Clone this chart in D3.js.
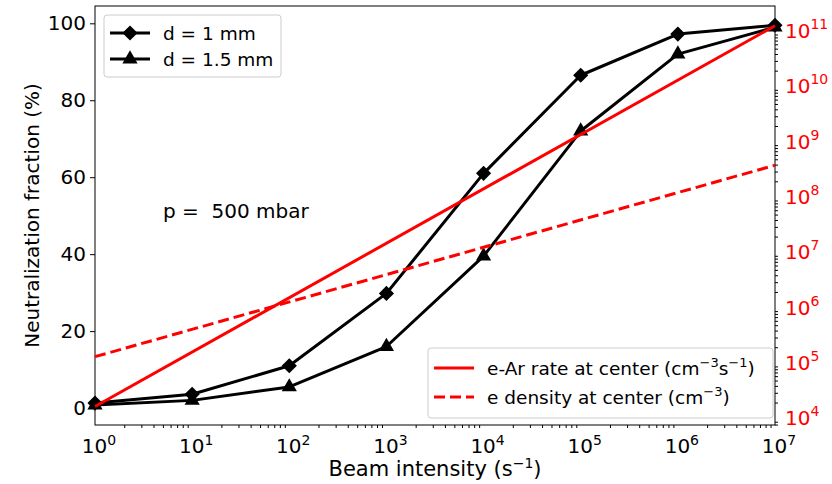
<!DOCTYPE html>
<html lang="en">
  <head>
    <meta charset="UTF-8">
    <script type="text/javascript" src="https://cdn.jsdelivr.net/npm/d3@7"></script>
    <title>Neutralization fraction</title>
    <style>
      body { margin: 0; background: #fff; }
      text { font-family: 'DejaVu Sans', sans-serif; white-space: pre; }
    </style>
  </head>
  <body>
    <script type="text/javascript">
      let w = 832;
      let h = 484;
      let m = {left: 95, right: 775, top: 6, bottom: 425};

      // data
      let beam = [1, 10, 100, 1e3, 1e4, 1e5, 1e6, 1e7];
      let frac1mm = [1.3, 3.6, 11, 29.8, 61, 86.5, 97.2, 99.5];
      let frac15mm = [0.8, 2.0, 5.5, 16, 39.5, 72, 92, 99];
      let rateX = [1, 1e7];
      let rateY = [1.7e4, 1.3e11];
      let densX = [1, 1e7];
      let densY = [1.35e5, 3.9e8];
      let xTicks = [0, 1, 2, 3, 4, 5, 6, 7];
      let yTicks = [0, 20, 40, 60, 80, 100];
      let rTicks = [4, 5, 6, 7, 8, 9, 10, 11];

      let xScale = d3.scaleLog().domain([1, 1e7]).range([m.left, m.right]);
      let yScale = d3.scaleLinear().domain([-4.4, 104.5]).range([m.bottom, m.top]);
      let rScale = d3.scaleLog().domain([Math.pow(10, 3.895), Math.pow(10, 11.47)]).range([m.bottom, m.top]);

      let svg = d3.select('body')
                  .append('svg')
                  .attr('width', w)
                  .attr('height', h);

      // exponent label helper
      function powLabel(sel, exp, up) {
        sel.text('');
        sel.append('tspan').text('10');
        sel.append('tspan').attr('dy', -up).attr('font-size', '14px').text(exp);
      }

      // minor ticks for log axes
      function minors(lo, hi) {
        let out = [];
        for (let e = lo; e < hi; e++) {
          for (let k = 2; k < 10; k++) out.push(k * Math.pow(10, e));
        }
        return out;
      }

      // bottom axis
      let xAxis = svg.append('g')
          .attr('transform', `translate(0,${m.bottom})`)
          .call(d3.axisBottom(xScale).tickValues(xTicks.map(e => Math.pow(10, e))).tickSize(5).tickFormat(''));
      xAxis.call(d3.axisBottom(xScale).tickValues(minors(0, 7)).tickSize(3).tickFormat(''));
      xAxis.select('.domain').remove();
      svg.selectAll('.xlab')
          .data(xTicks)
          .enter()
          .append('text')
          .attr('class', 'xlab')
          .attr('x', d => xScale(Math.pow(10, d)) + 4)
          .attr('y', 453)
          .attr('text-anchor', 'middle')
          .attr('font-size', '20px')
          .each(function(d) { powLabel(d3.select(this), d, 8); });

      // left axis
      let yAxis = svg.append('g')
          .attr('transform', `translate(${m.left},0)`)
          .call(d3.axisLeft(yScale).tickValues(yTicks).tickSize(5).tickPadding(4));
      yAxis.select('.domain').remove();
      yAxis.selectAll('text').attr('font-size', '20px').attr('font-family', 'DejaVu Sans').attr('fill', '#000');

      // right axis
      let rAxis = svg.append('g')
          .attr('transform', `translate(${m.right},0)`)
          .call(d3.axisRight(rScale).tickValues(rTicks.map(e => Math.pow(10, e))).tickSize(5).tickFormat(''));
      rAxis.call(d3.axisRight(rScale).tickValues(minors(3, 11).filter(v => v > Math.pow(10, 3.895) && v < Math.pow(10, 11.47))).tickSize(3).tickFormat(''));
      rAxis.select('.domain').remove();
      svg.selectAll('.rlab')
          .data(rTicks)
          .enter()
          .append('text')
          .attr('class', 'rlab')
          .attr('x', m.right + 10)
          .attr('y', d => rScale(Math.pow(10, d)) + 6)
          .attr('font-size', '20px')
          .attr('fill', 'red')
          .each(function(d) { powLabel(d3.select(this), d, 9); });

      // frame
      svg.append('rect')
          .attr('x', m.left).attr('y', m.top)
          .attr('width', m.right - m.left).attr('height', m.bottom - m.top)
          .attr('fill', 'none').attr('stroke', '#000').attr('stroke-width', 1);

      // axis titles
      svg.append('text')
          .attr('x', (m.left + m.right) / 2)
          .attr('y', 476)
          .attr('text-anchor', 'middle')
          .attr('font-size', '21px')
          .call(t => {
            t.append('tspan').text('Beam intensity (s');
            t.append('tspan').attr('dy', -8).attr('font-size', '14px').text('\u22121');
            t.append('tspan').attr('dy', 8).text(')');
          });
      svg.append('text')
          .attr('transform', `translate(39,${(m.top + m.bottom) / 2}) rotate(-90)`)
          .attr('text-anchor', 'middle')
          .attr('font-size', '20px')
          .text('Neutralization fraction (%)');

      svg.append('text')
          .attr('x', 163)
          .attr('y', 218)
          .attr('font-size', '20px')
          .text('p =  500 mbar');

      // black series
      let line = d3.line().x(d => xScale(d[0])).y(d => yScale(d[1]));
      let s1 = beam.map((b, i) => [b, frac1mm[i]]);
      let s2 = beam.map((b, i) => [b, frac15mm[i]]);
      [s1, s2].forEach(s => {
        svg.append('path')
            .attr('d', line(s))
            .attr('fill', 'none').attr('stroke', '#000').attr('stroke-width', 3)
            .attr('stroke-linejoin', 'round');
      });
      let diamond = d3.symbol().type(d3.symbolSquare).size(115);
      let tri = d3.symbol().type(d3.symbolTriangle).size(100);
      svg.selectAll('.dm')
          .data(s1)
          .enter()
          .append('path')
          .attr('d', diamond)
          .attr('transform', d => `translate(${xScale(d[0])},${yScale(d[1])}) rotate(45)`);
      svg.selectAll('.tr')
          .data(s2)
          .enter()
          .append('path')
          .attr('d', tri)
          .attr('transform', d => `translate(${xScale(d[0])},${yScale(d[1])})`);

      // red series
      let rline = d3.line().x(d => xScale(d[0])).y(d => rScale(d[1]));
      svg.append('path')
          .attr('d', rline(rateX.map((x, i) => [x, rateY[i]])))
          .attr('fill', 'none').attr('stroke', 'red').attr('stroke-width', 3);
      svg.append('path')
          .attr('d', rline(densX.map((x, i) => [x, densY[i]])))
          .attr('fill', 'none').attr('stroke', 'red').attr('stroke-width', 3)
          .attr('stroke-dasharray', '11,5');

      // legend 1
      let lg1 = svg.append('g');
      lg1.append('rect')
          .attr('x', 104).attr('y', 15).attr('width', 177).attr('height', 62).attr('rx', 3)
          .attr('fill', '#fff').attr('fill-opacity', 0.8).attr('stroke', '#ccc');
      [['d = 1 mm', diamond, 45], ['d = 1.5 mm', tri, 0]].forEach((e, i) => {
        let yy = 33 + i * 26;
        lg1.append('line').attr('x1', 110).attr('x2', 150).attr('y1', yy).attr('y2', yy)
            .attr('stroke', '#000').attr('stroke-width', 3);
        lg1.append('path').attr('d', e[1]).attr('transform', `translate(130,${yy}) rotate(${e[2]})`);
        lg1.append('text').attr('x', 163).attr('y', yy + 7).attr('font-size', '18.5px').text(e[0]);
      });

      // legend 2
      let lg2 = svg.append('g');
      lg2.append('rect')
          .attr('x', 428).attr('y', 348).attr('width', 345).attr('height', 70).attr('rx', 3)
          .attr('fill', '#fff').attr('fill-opacity', 0.8).attr('stroke', '#ccc');
      lg2.append('line').attr('x1', 434).attr('x2', 474).attr('y1', 368).attr('y2', 368)
          .attr('stroke', 'red').attr('stroke-width', 3);
      lg2.append('line').attr('x1', 434).attr('x2', 474).attr('y1', 397).attr('y2', 397)
          .attr('stroke', 'red').attr('stroke-width', 3).attr('stroke-dasharray', '11,5');
      lg2.append('text').attr('x', 487).attr('y', 375).attr('font-size', '18.5px')
          .call(t => {
            t.append('tspan').text('e-Ar rate at center (cm');
            t.append('tspan').attr('dy', -8).attr('font-size', '13px').text('\u22123');
            t.append('tspan').attr('dy', 8).text('s');
            t.append('tspan').attr('dy', -8).attr('font-size', '13px').text('\u22121');
            t.append('tspan').attr('dy', 8).text(')');
          });
      lg2.append('text').attr('x', 487).attr('y', 404).attr('font-size', '18.5px')
          .call(t => {
            t.append('tspan').text('e density at center (cm');
            t.append('tspan').attr('dy', -8).attr('font-size', '13px').text('\u22123');
            t.append('tspan').attr('dy', 8).text(')');
          });
    </script>
  </body>
</html>
